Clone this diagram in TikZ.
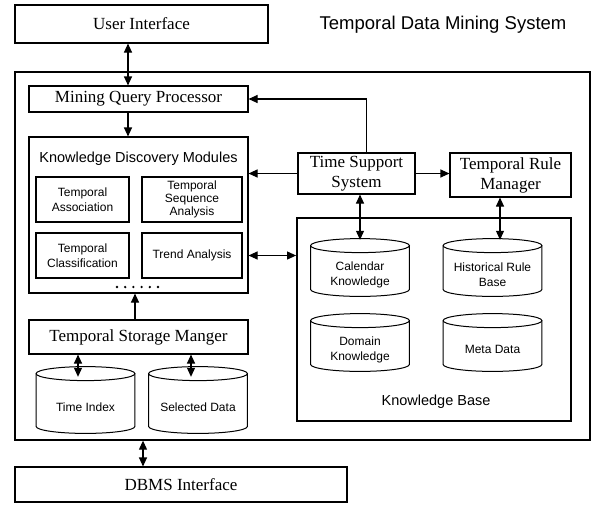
\documentclass[tikz,border=0pt]{standalone}
\usepackage{fontspec}
\setmainfont{Liberation Serif}
\setsansfont{Liberation Sans}
\usetikzlibrary{arrows.meta, calc}

\begin{document}
\begin{tikzpicture}[x=1pt, y=-1pt,
    box/.style={draw, line width=1.1pt, inner sep=0pt, align=center, font=\fontsize{17}{20}\selectfont},
    module/.style={draw, line width=1.1pt, inner sep=0pt, align=center, font=\sffamily\fontsize{12}{14.5}\selectfont},
    dbtext/.style={align=center, inner sep=0pt, font=\sffamily\fontsize{12}{15}\selectfont},
    db/.style={rectangle, fill=white, inner sep=0pt, minimum width=100pt,
      label={[dbtext, yshift=-7pt]center:{#1}},
      path picture={
        \draw[line width=1pt]
          ([xshift=0.6pt,yshift=-7.6pt]path picture bounding box.north west)
          -- ([xshift=0.6pt,yshift=7.6pt]path picture bounding box.south west)
          arc[start angle=180, end angle=360, x radius=49.4pt, y radius=7pt]
          -- ([xshift=-0.6pt,yshift=-7.6pt]path picture bounding box.north east);
        \draw[line width=1pt] ([yshift=-7.6pt]path picture bounding box.north) ellipse [x radius=49.4pt, y radius=7pt];
      }},
    sanslabel/.style={font=\sffamily\fontsize{14.5}{17}\selectfont},
    arr/.style={-{Triangle[length=9pt,width=8pt]}, line width=1.1pt},
    dbl/.style={{Triangle[length=9pt,width=8pt]}-{Triangle[length=9pt,width=8pt]}, line width=1.1pt}]
      \useasboundingbox (0,0) rectangle (593,504);

      % top
      \node[box, minimum width=253pt, minimum height=38pt] (ui) at (141.5,24) {User Interface};
      \node[font=\sffamily\fontsize{18.5}{22}\selectfont] (title) at (443,25) {Temporal Data Mining System};

      % system frame
      \node[draw, line width=1.3pt, minimum width=575pt, minimum height=368pt] (frame) at (302.5,256) {};
      \node[box, minimum width=219pt, minimum height=26pt] (mqp) at (138.5,99) {Mining Query Processor};

      % knowledge discovery modules
      \node[draw, line width=1.1pt, minimum width=219pt, minimum height=156pt] (kdm) at (138.5,215) {};
      \node[sanslabel] (kdmlabel) at (138.5,159) {Knowledge Discovery Modules};
      \node[module, minimum width=93pt, minimum height=45pt] (ta) at (82.5,199.5) {Temporal\\Association};
      \node[module, minimum width=100pt, minimum height=45pt, font=\sffamily\fontsize{12}{13}\selectfont] (tsa) at (192,199.5) {Temporal\\Sequence\\Analysis};
      \node[module, minimum width=93pt, minimum height=45pt] (tc) at (82.5,255.5) {Temporal\\Classification};
      \node[module, minimum width=100pt, minimum height=45pt] (tr) at (192,255.5) {Trend Analysis};
      \foreach \i in {0,...,5}
        \fill (117+8.2*\i,287) circle (1.3pt);

      % time support and rules
      \node[box, minimum width=117pt, minimum height=41pt] (tss) at (356.5,173.5) {Time Support\\System};
      \node[box, minimum width=121pt, minimum height=44pt] (trm) at (510.5,175) {Temporal Rule\\Manager};

      % knowledge base
      \node[draw, line width=1.8pt, minimum width=274pt, minimum height=203pt] (kb) at (434,319.5) {};
      \node[sanslabel] (kblabel) at (436,402) {Knowledge Base};
      \node[db={Calendar\\Knowledge}, minimum height=59pt] (cal) at (360,267.5) {};
      \node[db={Historical Rule\\Base}, minimum height=59pt] (hist) at (492.5,267.5) {};
      \node[db={Domain\\Knowledge}, minimum height=59pt] (dom) at (360,342.5) {};
      \node[db={Meta Data}, minimum height=59pt] (meta) at (492.5,342.5) {};

      % storage
      \node[box, minimum width=219pt, minimum height=34pt] (tsm) at (138.5,337) {Temporal Storage Manger};
      \node[db={Time Index}, minimum height=68pt] (tix) at (85.5,400) {};
      \node[db={Selected Data}, minimum height=68pt] (sel) at (198,400) {};

      % bottom
      \node[box, minimum width=332pt, minimum height=35pt] (dbms) at (181,484.5) {DBMS Interface};

      % connectors
      \draw[dbl] ([xshift=-10.5pt]mqp.north) -- ([xshift=-10.5pt]mqp.north |- ui.south);
      \draw[arr] ([xshift=-10.5pt]mqp.south) -- ([xshift=-10.5pt]mqp.south |- kdm.north);
      \draw[arr] ([xshift=10pt]tss.north) |- (mqp.east);
      \draw[arr] (tss.west) -- (tss.west -| kdm.east);
      \draw[arr] (tss.east) -- (tss.east -| trm.west);
      \draw[dbl] (tr.east -| kdm.east) -- (tr.east -| kb.west);
      \draw[dbl] (cal.north |- tss.south) -- ([yshift=-2pt]cal.north);
      \draw[dbl] ([xshift=7.5pt]hist.north |- trm.south) -- ([xshift=7.5pt,yshift=-2pt]hist.north);
      \draw[arr] ([xshift=-3.5pt]tsm.north) -- ([xshift=-3.5pt]tsm.north |- kdm.south);
      \draw[dbl] ([xshift=-7.5pt]tix.north |- tsm.south) -- ([xshift=-7.5pt,yshift=-11pt]tix.north);
      \draw[dbl] ([xshift=-7pt]sel.north |- tsm.south) -- ([xshift=-7pt,yshift=-11pt]sel.north);
      \draw[dbl] ([xshift=-38pt]dbms.north) -- ([xshift=-38pt]dbms.north |- frame.south);
    \end{tikzpicture}
\end{document}
